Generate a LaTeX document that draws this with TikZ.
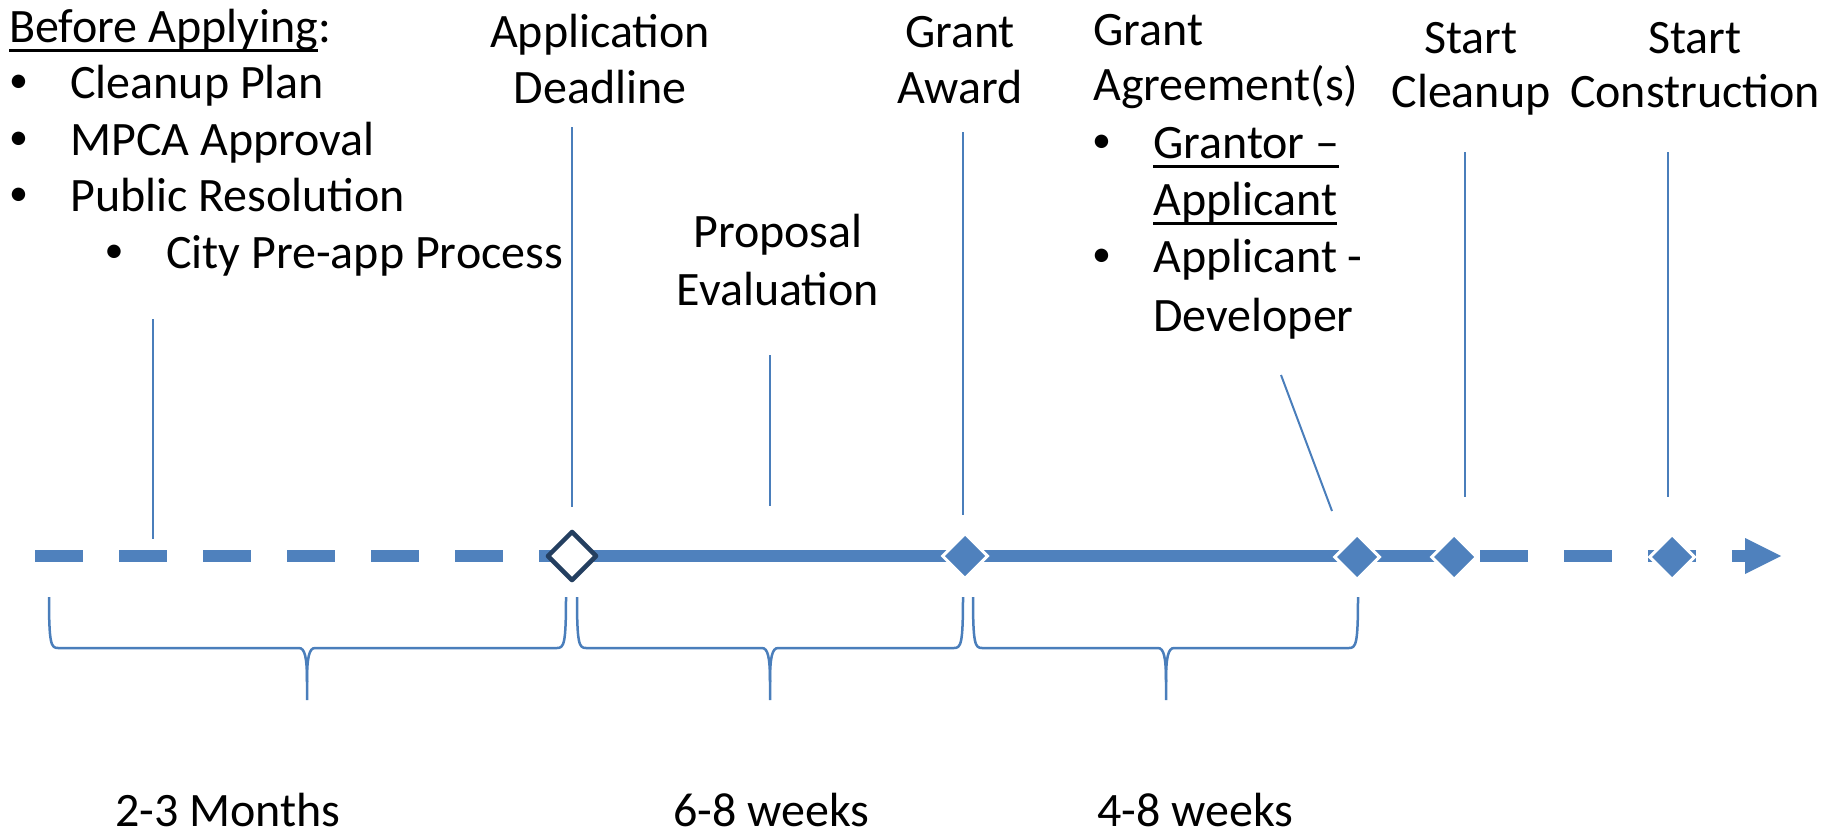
\documentclass[tikz,border=0pt]{standalone}
\usepackage{fontspec}
\setmainfont{Carlito}
\usetikzlibrary{shapes.geometric}
\definecolor{axisblue}{HTML}{4F81BD}
\definecolor{lineblue}{HTML}{4A7EBB}
\definecolor{navy}{HTML}{243F60}
\newcommand{\ulbox}[1]{\setbox0\hbox{#1}\rlap{\rule[-10pt]{\wd0}{3pt}}\box0}
\newcommand{\bul}{\raisebox{6pt}{\fontsize{38}{38}\selectfont •}}

\tikzset{
	axisline/.style={draw=axisblue, line width=12pt},
	tick/.style={draw=lineblue, line width=2pt},
	bracket/.style={draw=lineblue, line width=2.5pt},
	milestone/.style={diamond, fill=axisblue, draw=white, line width=3pt,
		minimum width=46pt, minimum height=46pt, inner sep=0pt},
	deadline/.style={diamond, fill=white, draw=navy, line width=4.5pt, line join=round,
		minimum width=50pt, minimum height=50pt, inner sep=0pt}
}

\begin{document}
\begin{tikzpicture}[x=1pt, y=-1pt, font=\fontsize{48}{57}\selectfont,
	every node/.style={inner sep=0pt}]
	\useasboundingbox (0,0) rectangle (1837,835);

	% time axis
	\draw[axisline, dash pattern=on 48pt off 36pt] (35,556) -- (572,556);
	\draw[axisline] (572,556) -- (1454,556);
	\draw[axisline, dash pattern=on 48pt off 36pt] (1480,556) -- (1745,556);
	\fill[axisblue] (1745,538) -- (1781,556) -- (1745,574) -- cycle;

	\node[deadline] (dead) at (572,556) {};
	\node[milestone] (award) at (965,556) {};
	\node[milestone] (agree) at (1357,557) {};
	\node[milestone] (clean) at (1454,557) {};
	\node[milestone] (build) at (1672,557) {};

	% pointer lines
	\foreach \n/\x/\ya/\yb in {pre/153/319/539, app/572/127/507, eval/770/355/506,
		grant/963/132/515, start/1465/152/497, constr/1668/152/497} {
		\coordinate (\n-top) at (\x,\ya);
		\coordinate (\n-bot) at (\x,\yb);
		\draw[tick] (\n-top) -- (\n-bot);
	}
	\coordinate (agr-top) at (1281,375);
	\coordinate (agr-bot) at (1332,511);
	\draw[tick] (agr-top) -- (agr-bot);

	% braces
	\foreach \l/\m/\r in {49/307/566, 577/770/963, 973/1166/1358} {
		\draw[bracket] (\l,597) .. controls (\l,644) and (\l+2,648) .. (\l+9,648)
			-- (\m-8,648) .. controls (\m-2,648) and (\m,658) .. (\m,682) -- (\m,700);
		\draw[bracket] (\r,597) .. controls (\r,644) and (\r-2,648) .. (\r-9,648)
			-- (\m+8,648) .. controls (\m+2,648) and (\m,658) .. (\m,682);
	}

	% before applying
	\node[anchor=base west] (before) at (9,42) {\ulbox{Before Applying}:};
	\foreach \txt/\yy [count=\i] in {Cleanup Plan/98.5, MPCA Approval/155, Public Resolution/211.5} {
		\node[anchor=base] (pre-dot-\i) at (18.5,\yy) {\bul};
		\node[anchor=base west] (pre-item-\i) at (70,\yy) {\txt};
	}
	\node[anchor=base] (city-dot) at (114,268) {\bul};
	\node[anchor=base west] (city) at (166,268) {City Pre-app Process};

	% milestones
	\node[anchor=base] (app-1) at (600,47) {Application};
	\node[anchor=base] (app-2) at (600,103) {Deadline};
	\node[anchor=base] (grant-1) at (960,47) {Grant};
	\node[anchor=base] (grant-2) at (960,103) {Award};
	\node[anchor=base] (eval-1) at (778,247) {Proposal};
	\node[anchor=base] (eval-2) at (778,305) {Evaluation};
	\node[anchor=base] (start-1) at (1471,53) {Start};
	\node[anchor=base] (start-2) at (1471,107) {Cleanup};
	\node[anchor=base] (constr-1) at (1695,53) {Start};
	\node[anchor=base] (constr-2) at (1695,107) {Construction};

	% grant agreements
	\node[anchor=base west] (agr-1) at (1093,45) {Grant};
	\node[anchor=base west] (agr-2) at (1093,100) {Agreement(s)};
	\node[anchor=base] (agr-dot-1) at (1101.5,158) {\bul};
	\node[anchor=base west] (agr-3) at (1153,158) {\ulbox{Grantor –}};
	\node[anchor=base west] (agr-4) at (1153,215) {\ulbox{Applicant}};
	\node[anchor=base] (agr-dot-2) at (1101.5,272) {\bul};
	\node[anchor=base west] (agr-5) at (1153,272) {Applicant -};
	\node[anchor=base west] (agr-6) at (1153,331) {Developer};

	% durations
	\node[anchor=base west] (dur-1) at (115,826) {2-3 Months};
	\node[anchor=base west] (dur-2) at (673,826) {6-8 weeks};
	\node[anchor=base west] (dur-3) at (1097,826) {4-8 weeks};
\end{tikzpicture}
\end{document}
